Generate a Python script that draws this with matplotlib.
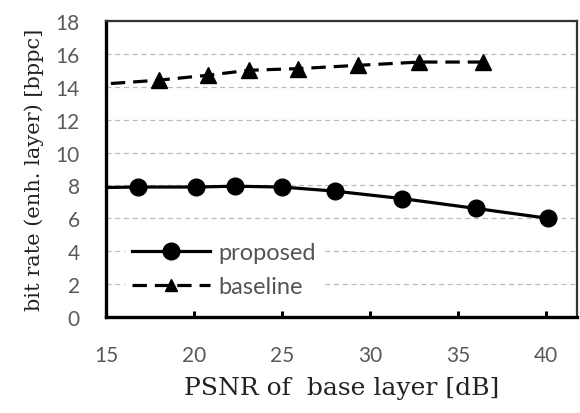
import matplotlib
matplotlib.use("Agg")
import matplotlib.pyplot as plt

# data
psnr_proposed = [13.5, 16.8, 20.1, 22.3, 25.0, 28.0, 31.8, 36.0, 40.1]
rate_proposed = [7.85, 7.9, 7.9, 7.95, 7.9, 7.65, 7.2, 6.6, 6.0]

psnr_baseline = [14.0, 18.0, 20.8, 23.1, 25.9, 29.3, 32.8, 36.4]
rate_baseline = [14.1, 14.4, 14.7, 15.0, 15.1, 15.3, 15.5, 15.5]

x_ticks = [15, 20, 25, 30, 35, 40]
y_ticks = [0, 2, 4, 6, 8, 10, 12, 14, 16, 18]

TICK_COLOR = "#5a5a5a"
TICK_FONT = "Lato"
SERIF = "DejaVu Serif"

fig = plt.figure(figsize=(5.8, 4.14), dpi=100)
ax = fig.add_axes([0.183, 0.232, 0.812, 0.715])

ax.plot(psnr_proposed, rate_proposed, color="black", linestyle="-", linewidth=2.3,
        marker="o", markersize=12, label="proposed", zorder=3)
ax.plot(psnr_baseline, rate_baseline, color="black", linestyle=(0, (4.5, 2.5)), linewidth=2.3,
        marker="^", markersize=12, label="baseline", zorder=3)

ax.set_xlim(15, 41.76)
ax.set_ylim(0, 18)
ax.set_xticks(x_ticks)
ax.set_yticks(y_ticks)
ax.tick_params(axis="x", direction="in", length=4, width=2.2, colors="black",
               labelcolor=TICK_COLOR, labelsize=15, pad=20)
ax.tick_params(axis="y", length=0, labelcolor=TICK_COLOR, labelsize=15, pad=19)
for lbl in ax.get_xticklabels() + ax.get_yticklabels():
    lbl.set_family(TICK_FONT)

ax.yaxis.grid(True, linestyle=(0, (4, 3)), color="#bbbbbb", linewidth=0.9)
ax.set_axisbelow(True)

for side in ["left", "bottom"]:
    ax.spines[side].set_linewidth(2.4)
for side in ["top", "right"]:
    ax.spines[side].set_linewidth(1.6)
    ax.spines[side].set_color("#333333")

ax.set_xlabel("PSNR of  base layer [dB]", fontsize=18, family=SERIF, labelpad=8,
              color="#222222")
ax.set_ylabel("bit rate (enh. layer) [bppc]", fontsize=15, family=SERIF, labelpad=8,
              color="#222222")

leg = ax.legend(loc="center left", bbox_to_anchor=(0.04, 0.16), frameon=True,
                framealpha=1, edgecolor="white", prop={"family": TICK_FONT, "size": 17},
                handlelength=3.3, handletextpad=0.35, labelspacing=0.55,
                borderpad=0.3, borderaxespad=0)
for t in leg.get_texts():
    t.set_color("#555555")
leg.legend_handles[1].set_markersize(9)

fig.savefig("out.png", dpi=100)
